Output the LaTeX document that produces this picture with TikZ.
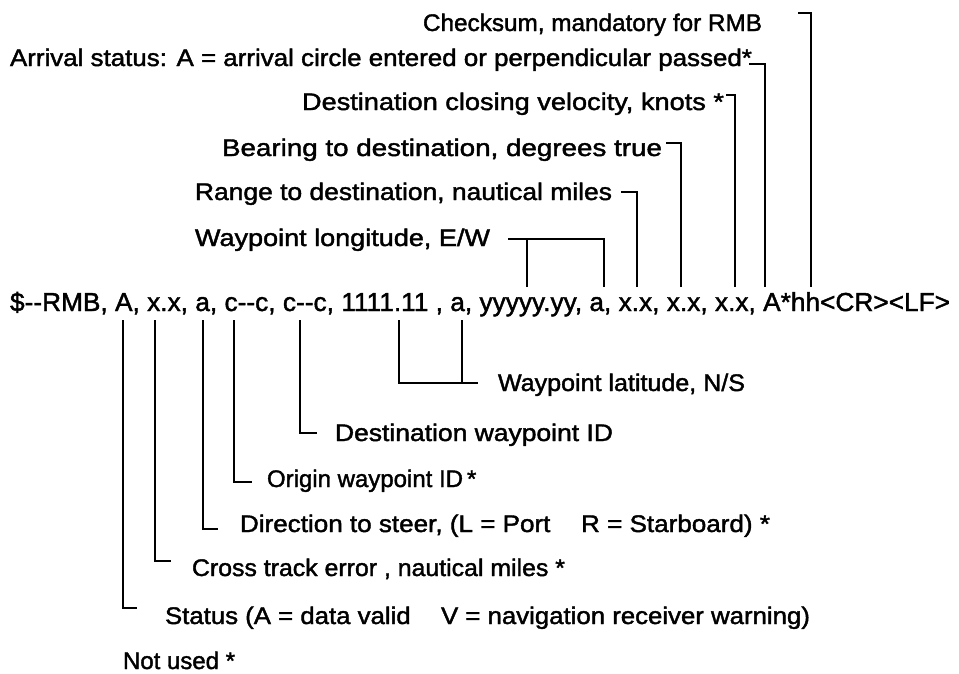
\documentclass[tikz,border=0pt]{standalone}
\usepackage{fontspec}
\setmainfont{Liberation Sans}[FakeBold=1.6]
\usepackage{graphicx}
\newcommand\fitw[2]{\resizebox{#1}{\height}{#2}}
\newcommand\dd{-\kern0pt-}
\begin{document}
\begin{tikzpicture}[x=1pt,y=-1pt,
  lbl/.style={inner sep=0pt,outer sep=0pt,anchor=base west,font=\fontsize{24}{28}\selectfont},
  mainline/.style={inner sep=0pt,outer sep=0pt,anchor=base west,font=\fontsize{26}{30}\selectfont},
  conn/.style={line width=1.8pt,line join=miter}]
\useasboundingbox[fill=white] (0,0) rectangle (959,673);

% the sentence
\node[mainline] (fields) at (10,311) {\fitw{940pt}{\$\dd RMB, A, x.x, a, c\dd c, c\dd c, 1111.11 , a, yyyyy.yy, a, x.x, x.x, x.x, A*hh<CR><LF>}};

% labels above
\node[lbl] (ck)  at (423,31)  {\fitw{339pt}{Checksum, mandatory for RMB}};
\node[lbl] (arr) at (10,66)   {\fitw{742pt}{Arrival status: A = arrival circle entered or perpendicular passed*}};
\node[lbl] (vel) at (302,110) {\fitw{422pt}{Destination closing velocity, knots *}};
\node[lbl] (brg) at (222,156) {\fitw{440pt}{Bearing to destination, degrees true}};
\node[lbl] (rng) at (195,200) {\fitw{417pt}{Range to destination, nautical miles}};
\node[lbl] (lon) at (195,246) {\fitw{295pt}{Waypoint longitude, E/W}};

% labels below
\node[lbl] (lat) at (498,391) {\fitw{247pt}{Waypoint latitude, N/S}};
\node[lbl] (dst) at (335,441) {\fitw{278pt}{Destination waypoint ID}};
\node[lbl] (org) at (267,487) {Origin waypoint ID\,*};
\node[lbl] (dir) at (240,532) {\fitw{530pt}{Direction to steer, (L = Port\hspace{0.9em} R = Starboard) *}};
\node[lbl] (xte) at (192,576) {\fitw{373pt}{Cross track error , nautical miles *}};
\node[lbl] (sta) at (165,624) {\fitw{645pt}{Status (A = data valid\hspace{0.9em} V = navigation receiver warning)}};
\node[lbl] (nu)  at (123,669) {Not used *};

% field points above the sentence
\coordinate (fHH) at (811,287);
\coordinate (fAS) at (765,287);
\coordinate (fX3) at (735,287);
\coordinate (fX2) at (681,287);
\coordinate (fX1) at (637,287);
\coordinate (fEW) at (604,287);
\coordinate (fY)  at (527,287);
% field points below the sentence
\coordinate (fA)  at (123,320);
\coordinate (fXT) at (155,320);
\coordinate (fD)  at (203,320);
\coordinate (fC1) at (234,320);
\coordinate (fC2) at (300,320);
\coordinate (fL)  at (399,320);
\coordinate (fNS) at (462,320);

% stub ends
\coordinate (eCk)  at (798,13);
\coordinate (eArr) at (749,64);
\coordinate (eVel) at (726,95);
\coordinate (eBrg) at (666,143);
\coordinate (eRng) at (621,192);
\coordinate (eLon) at (508,239);
\coordinate (eLat) at (478,383);
\coordinate (eDst) at (317,433);
\coordinate (eOrg) at (252,482);
\coordinate (eDir) at (218,529);
\coordinate (eXte) at (171,561);
\coordinate (eSta) at (137,608);

% connectors above
\draw[conn] (fHH) |- (eCk);
\draw[conn] (fAS) |- (eArr);
\draw[conn] (fX3) |- (eVel);
\draw[conn] (fX2) |- (eBrg);
\draw[conn] (fX1) |- (eRng);
\draw[conn] (fEW) |- (eLon);
\draw[conn] (fY) -- (fY |- eLon);
% connectors below
\draw[conn] (fL) |- (eLat);
\draw[conn] (fNS) -- (fNS |- eLat);
\draw[conn] (fC2) |- (eDst);
\draw[conn] (fC1) |- (eOrg);
\draw[conn] (fD) |- (eDir);
\draw[conn] (fXT) |- (eXte);
\draw[conn] (fA) |- (eSta);
\end{tikzpicture}
\end{document}
